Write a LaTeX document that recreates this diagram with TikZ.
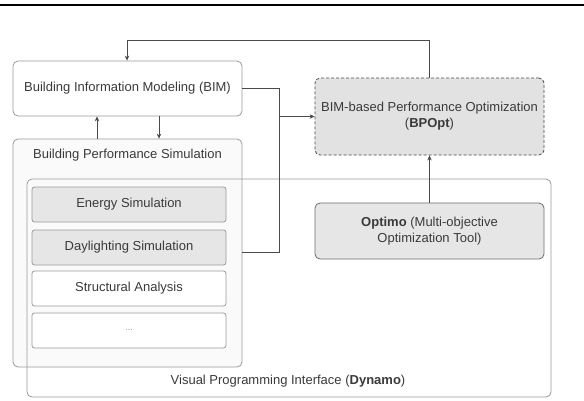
\documentclass[tikz,border=0pt]{standalone}
\usepackage{fontspec}
\setmainfont{Liberation Sans}
\usetikzlibrary{arrows.meta}
\definecolor{txt}{HTML}{3A3A3A}
\definecolor{edge}{HTML}{9A9A9A}
\definecolor{conncol}{HTML}{4A4A4A}
\definecolor{grayfill}{HTML}{E6E6E6}
\definecolor{optfill}{HTML}{E2E2E2}
\definecolor{bpsfill}{HTML}{FAFAFA}
\tikzset{
  box/.style={draw=edge, line width=0.8pt, rounded corners=5pt, rectangle, inner sep=0pt, text=txt, font=\fontsize{13}{16}\selectfont, align=center},
  inner/.style={box, minimum width=194pt, minimum height=35pt, rounded corners=2.5pt},
  lbl/.style={text=txt, font=\fontsize{13}{16}\selectfont, inner sep=0pt, align=center},
  conn/.style={draw=conncol, line width=0.7pt},
  arr/.style={conn, -{Stealth[length=5pt,width=4.5pt]}},
}
\begin{document}
\begin{tikzpicture}[x=1pt,y=-1pt]
\useasboundingbox (0,0) rectangle (584,400);
\fill[white] (0,0) rectangle (584,400);
\draw[line width=2.4pt, black] (0,5) -- (584,5);
% boxes
\node[box, fill=white, minimum width=229pt, minimum height=55pt] (bim) at (127.5,88.5) {Building Information Modeling (BIM)};
\node[box, fill=bpsfill, minimum width=229pt, minimum height=228pt] (bps) at (127.5,253) {};
\node[lbl] (bpst) at (127.5,155) {Building Performance Simulation};
\node[box, minimum width=524pt, minimum height=218pt] (dyn) at (289,288) {};
\node[lbl] (dynt) at (288,381) {Visual Programming Interface (\textbf{Dynamo})};
\node[inner, fill=grayfill] (energy) at (129,204.5) {Energy Simulation};
\node[inner, fill=grayfill] (day) at (129,247.5) {Daylighting Simulation};
\node[inner, fill=white] (struct) at (129,288.5) {Structural Analysis};
\node[inner, fill=white] (dots) at (129,330.5) {\fontsize{9}{10}\selectfont\color{edge}...};
\node[box, dashed, dash pattern=on 3pt off 2pt, draw=conncol, fill=optfill, minimum width=229pt, minimum height=77pt] (bpopt) at (429.5,116.5) {BIM-based Performance Optimization\\(\textbf{BPOpt})};
\node[box, draw=conncol!80, fill=grayfill, minimum width=229pt, minimum height=56pt] (optimo) at (429.5,231) {\textbf{Optimo} (Multi-objective\\Optimization Tool)};
% connectors
\coordinate (tl) at (127,40);
\coordinate (rj) at (279,88.5);
\coordinate (rb) at (279,252);
\coordinate (be) at (242,252);
\coordinate (ra) at (279,116.5);
\draw[arr] (bpopt.north) |- (tl) -- (tl |- bim.north);
\draw[arr] (bps.north -| 97,0) -- (bim.south -| 97,0);
\draw[arr] (bim.south -| 159,0) -- (bps.north -| 159,0);
\draw[conn] (bim.east) -- (rj) -- (rb) -- (be);
\draw[arr] (ra) -- (bpopt.west);
\draw[arr] (optimo.north) -- (bpopt.south);
\end{tikzpicture}
\end{document}
